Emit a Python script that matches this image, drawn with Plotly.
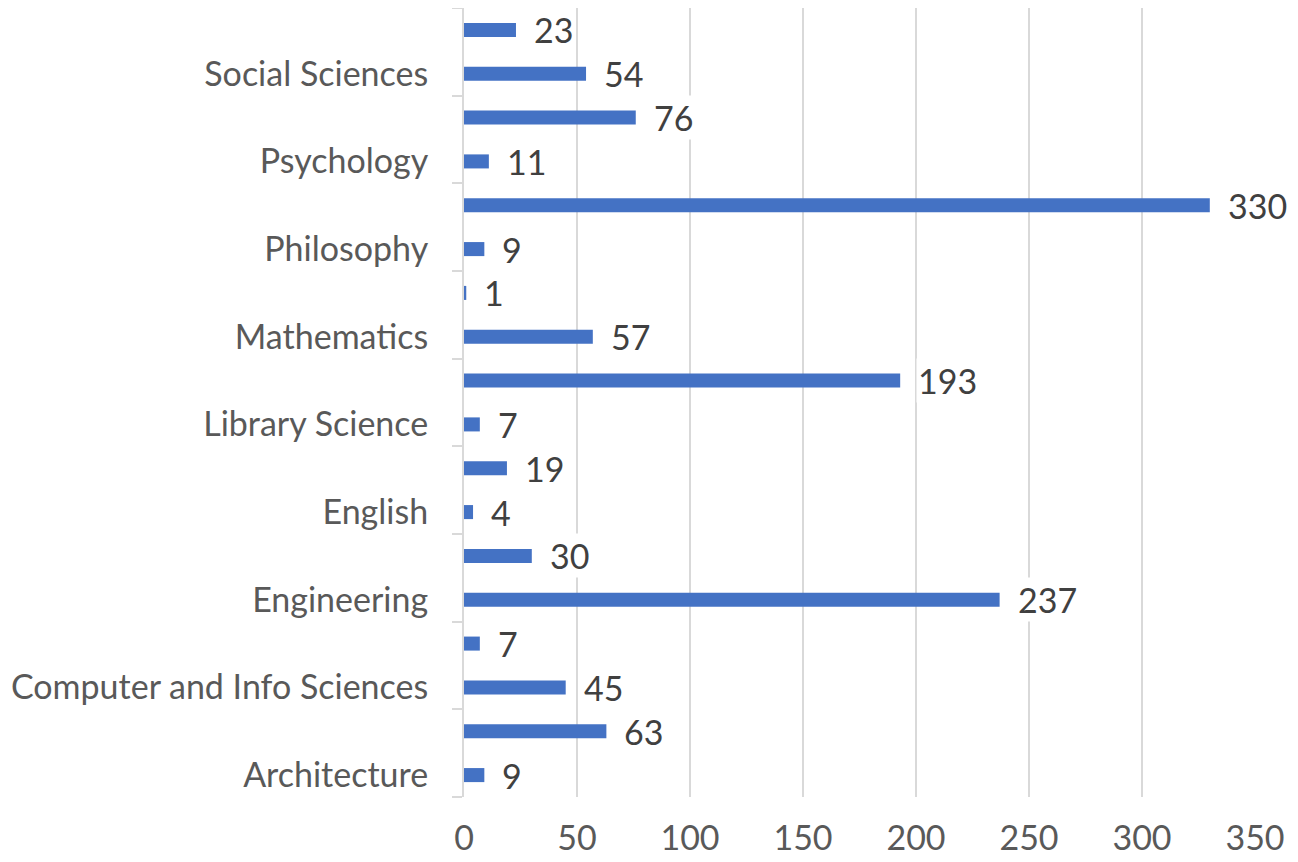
import plotly.graph_objects as go

categories = [
    "Architecture", "Biological Sciences", "Computer and Info Sciences", "Education",
    "Engineering", "Engineering Technology", "English", "History",
    "Library Science", "Liberal Arts", "Mathematics", "Music",
    "Philosophy", "Physical Sciences", "Psychology", "Public Administration",
    "Social Sciences", "Visual and Performing Arts",
]
values = [9, 63, 45, 7, 237, 30, 4, 19, 7, 193, 57, 1, 9, 330, 11, 76, 54, 23]
x_ticks = [0, 50, 100, 150, 200, 250, 300, 350]

pos = list(range(len(categories)))
label_pos = pos[::2]
label_text = categories[::2]
boundaries = [p - 0.5 for p in pos[::2]] + [pos[-1] + 0.5]

FONT = "Lato"
FS = 34
fig = go.Figure()
fig.add_trace(go.Bar(
    x=values, y=pos, orientation="h",
    marker=dict(color="#4472C4", line=dict(width=0)),
    hoverinfo="x+y",
))

for v, p in zip(values, pos):
    fig.add_annotation(
        x=v, y=p, text=str(v), showarrow=False,
        xanchor="left", yanchor="middle", xshift=16,
        font=dict(family=FONT, size=FS, color="#404040"),
        bgcolor="white", borderpad=1,
    )

fig.update_layout(
    width=1290, height=854,
    margin=dict(l=456, r=43, t=0, b=65, autoexpand=False),
    paper_bgcolor="white", plot_bgcolor="white",
    bargap=0.68, showlegend=False,
    font=dict(family=FONT, size=FS, color="#595959"),
)
fig.update_xaxes(
    range=[0, 350], tickvals=x_ticks, ticktext=[str(t) for t in x_ticks],
    showgrid=True, gridcolor="#d9d9d9", gridwidth=2,
    zeroline=False, showline=False, automargin=False,
    ticks="outside", ticklen=11, tickcolor="rgba(0,0,0,0)",
    tickfont=dict(family=FONT, size=FS, color="#595959"),
)
fig.update_yaxes(
    range=[-0.5, len(categories) - 0.5],
    tickvals=label_pos, ticktext=label_text,
    ticks="outside", ticklen=27, tickcolor="rgba(0,0,0,0)",
    showgrid=False, zeroline=False, automargin=False,
    showline=True, linecolor="#d9d9d9", linewidth=2,
    tickfont=dict(family=FONT, size=FS, color="#595959"),
    minor=dict(tickmode="array", tickvals=boundaries, ticks="outside",
               ticklen=10, tickcolor="#d9d9d9", tickwidth=2, showgrid=False),
)

fig.write_html("out.html")
